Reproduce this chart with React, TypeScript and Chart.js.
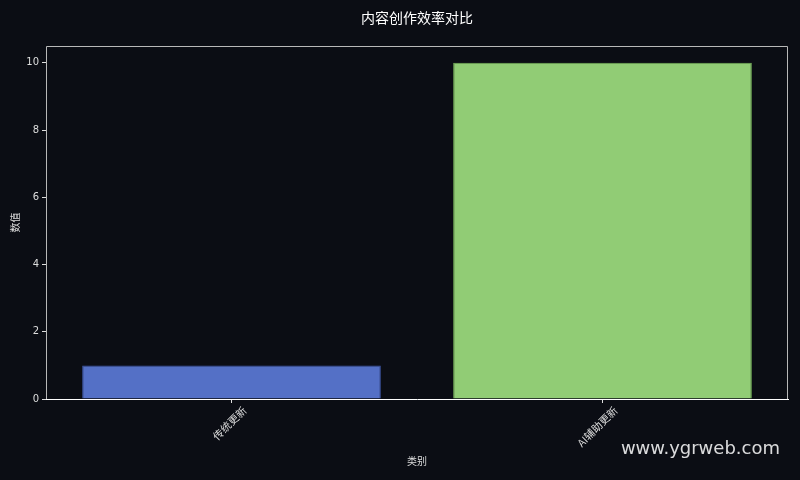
import { Chart, ChartConfiguration, Plugin } from "chart.js/auto";
import { useEffect, useRef } from "react";

const categories = ["传统更新", "AI辅助更新"];
const values = [1, 10];
const barColors = ["#5470c6", "#91cc75"];
const barEdges = ["#3e56a6", "#76b25a"];
const yTicks = [0, 2, 4, 6, 8, 10];

const cjk = '"Noto Sans CJK SC", "DejaVu Sans", sans-serif';
const num = '"DejaVu Sans", "Noto Sans CJK SC", sans-serif';
const bg = "#0b0d14";

// title + frame around the axes
const framePlugin: Plugin = {
    id: "frame",
    afterDraw(chart) {
        const { ctx, chartArea } = chart;
        ctx.save();
        ctx.strokeStyle = "#b8b8b8";
        ctx.lineWidth = 1;
        ctx.beginPath();
        ctx.moveTo(chartArea.left + 0.5, chartArea.bottom);
        ctx.lineTo(chartArea.left + 0.5, chartArea.top + 0.5);
        ctx.lineTo(chartArea.right - 0.5, chartArea.top + 0.5);
        ctx.lineTo(chartArea.right - 0.5, chartArea.bottom);
        ctx.stroke();
        ctx.fillStyle = "#ffffff";
        ctx.font = "14px " + cjk;
        ctx.textAlign = "center";
        ctx.textBaseline = "middle";
        ctx.fillText("内容创作效率对比", (chartArea.left + chartArea.right) / 2, 18);
        ctx.restore();
    },
};

export default function App() {
    const chartRef = useRef<HTMLCanvasElement | null>(null);
    useEffect(() => {
        document.body.style.margin = "0";
        document.body.style.background = bg;
        const config = {
            type: "bar",
            data: {
                labels: categories,
                datasets: [
                    {
                        data: values,
                        backgroundColor: barColors,
                        borderColor: barEdges,
                        borderWidth: 1,
                        barPercentage: 0.805,
                        categoryPercentage: 1,
                    },
                ],
            },
            options: {
                animation: false,
                responsive: true,
                maintainAspectRatio: false,
                layout: { padding: { top: 46, right: 12, left: 0, bottom: 0 } },
                plugins: {
                    legend: { display: false },
                    tooltip: { enabled: false },
                },
                scales: {
                    x: {
                        grid: { offset: false, drawOnChartArea: false, drawTicks: true, tickLength: 4, color: "#dddddd" },
                        border: { display: true, color: "#ffffff" },
                        ticks: {
                            color: "#dddddd",
                            font: { family: cjk, size: 10.5 },
                            minRotation: 45,
                            maxRotation: 45,
                            padding: 1,
                            labelOffset: 13,
                        },
                        title: {
                            display: true,
                            text: "类别",
                            color: "#dddddd",
                            font: { family: cjk, size: 10 },
                            padding: { top: 0, bottom: 13 },
                        },
                        afterFit: (axis: any) => {
                            axis.height = 81;
                        },
                    },
                    y: {
                        min: 0,
                        max: 10.5,
                        grid: { drawOnChartArea: false, drawTicks: true, tickLength: 4, color: "#dddddd" },
                        border: { display: false },
                        ticks: {
                            color: "#dddddd",
                            font: { family: num, size: 10 },
                            padding: 3,
                        },
                        afterBuildTicks: (axis: any) => {
                            axis.ticks = yTicks.map((v) => ({ value: v }));
                        },
                        title: {
                            display: true,
                            text: "数值",
                            color: "#dddddd",
                            font: { family: cjk, size: 10 },
                            padding: { top: 9, bottom: 0 },
                        },
                        afterFit: (axis: any) => {
                            axis.width = 46;
                        },
                    },
                },
            },
            plugins: [framePlugin],
        };
        const chartInstance = new Chart(chartRef.current as HTMLCanvasElement, config as ChartConfiguration);
        return () => {
            chartInstance.destroy();
        };
    }, []);
    return (
        <div style={{ position: "relative", width: 800, height: 480, background: bg }}>
            <canvas ref={chartRef} />
            <div
                style={{
                    position: "absolute",
                    right: 20,
                    top: 437,
                    fontFamily: '"DejaVu Sans", sans-serif',
                    fontSize: 18,
                    color: "rgba(255,255,255,0.85)",
                    lineHeight: "22px",
                }}
            >
                www.ygrweb.com
            </div>
        </div>
    );
}
